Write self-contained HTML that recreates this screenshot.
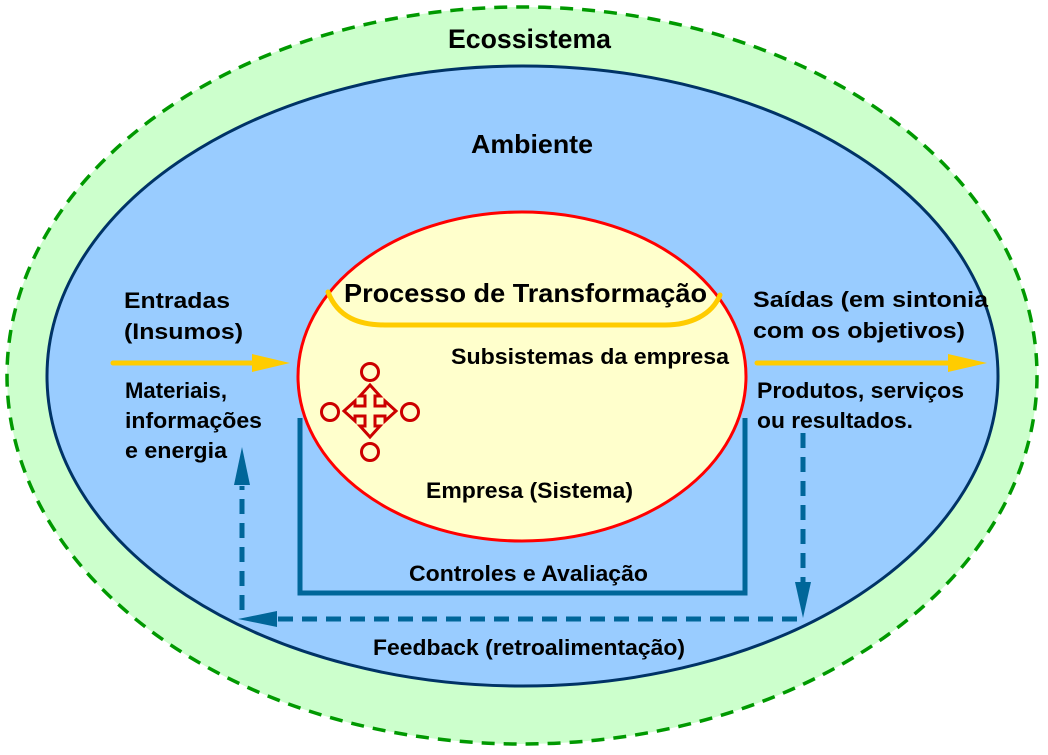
<!DOCTYPE html>
<html>
<head>
<meta charset="utf-8">
<style>
  html,body{margin:0;padding:0;background:#ffffff;}
  svg{display:block;}
  text{font-family:"Liberation Sans", Arial, sans-serif;font-weight:bold;fill:#000;}
</style>
</head>
<body>
<svg width="1048" height="755" viewBox="0 0 1048 755" xmlns="http://www.w3.org/2000/svg">
  <rect width="1048" height="755" fill="#ffffff"/>
  <!-- Ecossistema -->
  <ellipse cx="522" cy="375.5" rx="515" ry="368.5" fill="#CCFFCC" stroke="#009900" stroke-width="3.5" stroke-dasharray="13 9"/>
  <!-- Ambiente -->
  <ellipse cx="522.5" cy="376" rx="475.5" ry="310" fill="#99CCFF" stroke="#003366" stroke-width="3"/>
  <!-- Empresa -->
  <ellipse cx="522" cy="376.5" rx="224" ry="164.5" fill="#FFFFCC" stroke="#FF0000" stroke-width="3"/>

  <!-- yellow process arc -->
  <path d="M328,292 C338,318 360,325 385,325 L665,325 C690,325 712,315 720,295" fill="none" stroke="#FFCC00" stroke-width="5" stroke-linecap="round"/>

  <!-- cross icon -->
  <g stroke="#CC0000" stroke-width="3" fill="#FFFFCC">
    <circle cx="370" cy="372" r="8.5"/>
    <circle cx="330" cy="412" r="8.5"/>
    <circle cx="410" cy="412" r="8.5"/>
    <circle cx="370" cy="452" r="8.5"/>
    <polygon stroke-linejoin="miter" points="
      365,406 365,396 360,396 370,385 380,396 375,396 375,406
      385,406 385,401 396,411 385,421 385,416 375,416
      375,426 380,426 370,437 360,426 365,426 365,416
      355,416 355,421 344,411 355,401 355,406"/>
  </g>

  <!-- yellow arrows -->
  <line x1="113" y1="363" x2="256" y2="363" stroke="#FFCC00" stroke-width="5" stroke-linecap="round"/>
  <polygon points="252,354 290,363 252,372" fill="#FFCC00"/>
  <line x1="757" y1="363" x2="952" y2="363" stroke="#FFCC00" stroke-width="5" stroke-linecap="round"/>
  <polygon points="948,354 987,363 948,372" fill="#FFCC00"/>

  <!-- Controls bracket -->
  <path d="M300,418 V593 H745 V418" fill="none" stroke="#006699" stroke-width="5"/>

  <!-- Feedback dashed loop -->
  <g stroke="#006699" stroke-width="5" fill="none" stroke-dasharray="15 9">
    <line x1="803" y1="433" x2="803" y2="584"/>
    <line x1="797" y1="619" x2="276" y2="619"/>
    <line x1="242" y1="610" x2="242" y2="486"/>
  </g>
  <polygon points="795,582 811,582 803,618" fill="#006699"/>
  <polygon points="277,611 238,619 277,627" fill="#006699"/>
  <polygon points="234,485 250,485 242,447" fill="#006699"/>

  <!-- Texts -->
  <text x="448" y="48" font-size="27" textLength="163" lengthAdjust="spacingAndGlyphs">Ecossistema</text>
  <text x="471" y="153" font-size="26" textLength="122" lengthAdjust="spacingAndGlyphs">Ambiente</text>
  <text x="344" y="302" font-size="26" textLength="363" lengthAdjust="spacingAndGlyphs">Processo de Transformação</text>
  <text x="451" y="364" font-size="22" textLength="278" lengthAdjust="spacingAndGlyphs">Subsistemas da empresa</text>
  <text x="426" y="498" font-size="22" textLength="207" lengthAdjust="spacingAndGlyphs">Empresa (Sistema)</text>

  <text x="124" y="308" font-size="22" textLength="106" lengthAdjust="spacingAndGlyphs">Entradas</text>
  <text x="124" y="339" font-size="22" textLength="119" lengthAdjust="spacingAndGlyphs">(Insumos)</text>
  <text x="125" y="398" font-size="22" textLength="102" lengthAdjust="spacingAndGlyphs">Materiais,</text>
  <text x="125" y="428" font-size="22" textLength="137" lengthAdjust="spacingAndGlyphs">informações</text>
  <text x="125" y="458" font-size="22" textLength="102" lengthAdjust="spacingAndGlyphs">e energia</text>

  <text x="753" y="307" font-size="22" textLength="235" lengthAdjust="spacingAndGlyphs">Saídas (em sintonia</text>
  <text x="753" y="338" font-size="22" textLength="212" lengthAdjust="spacingAndGlyphs">com os objetivos)</text>
  <text x="757" y="398" font-size="22" textLength="207" lengthAdjust="spacingAndGlyphs">Produtos, serviços</text>
  <text x="757" y="428" font-size="22" textLength="156" lengthAdjust="spacingAndGlyphs">ou resultados.</text>

  <text x="409" y="581" font-size="22" textLength="239" lengthAdjust="spacingAndGlyphs">Controles e Avaliação</text>
  <text x="373" y="655" font-size="22" textLength="312" lengthAdjust="spacingAndGlyphs">Feedback (retroalimentação)</text>
</svg>
</body>
</html>
